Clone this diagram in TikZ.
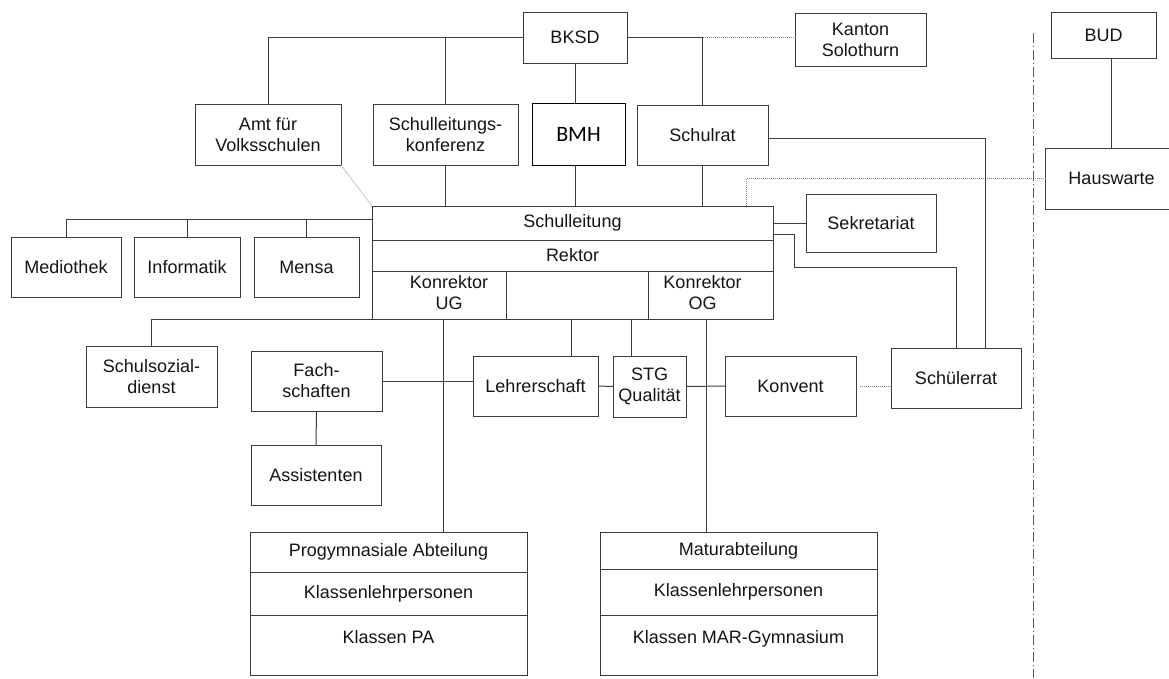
\documentclass[tikz,border=0pt]{standalone}
\usepackage{fontspec}
\setmainfont{Liberation Sans}
\newfontfamily\bmhfont{Carlito}
\usetikzlibrary{positioning}
\definecolor{orgline}{RGB}{60,60,60}
\definecolor{orgtext}{RGB}{20,20,20}
\definecolor{orgdot}{RGB}{130,130,130}
\newcommand{\orgfont}{\fontsize{18}{21}\selectfont}

\begin{document}
\begin{tikzpicture}[
    x=1pt, y=-1pt,
    node distance=0pt,
    box/.style={rectangle,draw=orgline,line width=1pt,outer sep=0pt,inner sep=2pt,
      align=center,font=\orgfont,text=orgtext},
    cellnote/.style={font=\orgfont,text=orgtext,align=center},
    lowrow/.style={text height=13pt,text depth=17pt},
    link/.style={draw=orgline,line width=1pt},
    dotlink/.style={draw=orgdot,line width=0.9pt,dash pattern=on 1pt off 1pt},
    faint/.style={draw=black!28,line width=0.6pt},
    divider/.style={draw=orgline!85,line width=0.9pt,dash pattern=on 10pt off 3pt on 1.2pt off 3pt}
  ]
  \useasboundingbox (0,0) rectangle (1169,678);
  \clip (0,0) rectangle (1169,678);

  \node[box,minimum width=104,minimum height=51] (bksd) at (575,37.5) {BKSD};
  \node[box,minimum width=131,minimum height=53] (kanton) at (860.5,39.5) {Kanton\\Solothurn};
  \node[box,minimum width=105,minimum height=46] (bud) at (1103.5,35) {BUD};
  \node[box,minimum width=146,minimum height=61] (amt) at (268,134.5) {Amt für\\Volksschulen};
  \node[box,minimum width=145,minimum height=61] (slk) at (445.5,134.5) {Schulleitungs-\\konferenz};
  \node[box,draw=black,text=black,font=\bmhfont\fontsize{22}{24}\selectfont,
    minimum width=93,minimum height=62] (bmh) at (578.5,134) {BMH};
  \node[box,minimum width=131,minimum height=60] (schulrat) at (702.5,135) {Schulrat};
  \node[box,minimum width=133,minimum height=61] (hausw) at (1111.5,178.5) {Hauswarte};

  \node[box,minimum width=401,minimum height=34] (sl) at (572.5,223) {Schulleitung};
  \node[box,minimum width=401,minimum height=31,below=of sl] (rektor) {Rektor};
  \node[box,minimum width=134,minimum height=48,below right=0pt and 0pt of rektor.south west,
    label={[cellnote,xshift=10pt,yshift=2pt]center:Konrektor\\UG}] (kug) {};
  \node[box,minimum width=142,minimum height=48,right=of kug] (kmid) {};
  \node[box,minimum width=125,minimum height=48,right=of kmid,
    label={[cellnote,xshift=-8pt,yshift=2pt]center:Konrektor\\OG}] (kog) {};

  \node[box,minimum width=130,minimum height=58] (sekr) at (871,223) {Sekretariat};
  \node[box,minimum width=110,minimum height=60] (med) at (66,267) {Mediothek};
  \node[box,minimum width=106,minimum height=60] (info) at (187,267) {Informatik};
  \node[box,minimum width=105,minimum height=60] (mensa) at (306.5,267) {Mensa};

  \node[box,minimum width=131,minimum height=61] (ssd) at (151.5,376.5) {Schulsozial-\\dienst};
  \node[box,minimum width=131,minimum height=60] (fach) at (316.5,381) {Fach-\\schaften};
  \node[box,minimum width=130,minimum height=60] (assist) at (316,475) {Assistenten};
  \node[box,minimum width=125,minimum height=60] (lehrer) at (535.5,386) {Lehrerschaft};
  \node[box,minimum width=73,minimum height=61] (stg) at (649.5,386.5) {STG\\Qualität};
  \node[box,minimum width=131,minimum height=60] (konvent) at (790.5,386) {Konvent};
  \node[box,minimum width=130,minimum height=60] (schuelerrat) at (956,378) {Schülerrat};

  \node[box,minimum width=277,minimum height=40,anchor=north west] (pa1) at (250,532) {Progymnasiale Abteilung};
  \node[box,minimum width=277,minimum height=43,below=of pa1] (pa2) {Klassenlehrpersonen};
  \node[box,lowrow,minimum width=277,minimum height=60,below=of pa2] (pa3) {Klassen PA};
  \node[box,minimum width=277,minimum height=37,anchor=north west] (ma1) at (600,532) {Maturabteilung};
  \node[box,minimum width=277,minimum height=46,below=of ma1] (ma2) {Klassenlehrpersonen};
  \node[box,lowrow,minimum width=277,minimum height=60,below=of ma2] (ma3) {Klassen MAR-Gymnasium};

  \coordinate (septop) at (1033,33);
  \coordinate (sepbot) at (1033,678);
  \coordinate (hwtap) at (746,206);
  \coordinate (medbus) at ([yshift=4pt]sl.west);
  \coordinate (ugtap) at ([xshift=4pt]kug.south);
  \coordinate (lstap) at ([xshift=-6pt]kmid.south);
  \coordinate (stgtap) at ([xshift=-18.5pt]stg.north);
  \coordinate (ogtap) at ([xshift=-4.5pt]kog.south);

  \draw[link] (bksd.west) -| (amt.north);
  \draw[link] (slk.north) -- (slk.north |- bksd.west);
  \draw[link] (bksd.south) -- (bksd.south |- bmh.north);
  \draw[link] (bksd.east) -| (schulrat.north);
  \draw[dotlink] (schulrat.north |- bksd.east) -- (kanton.west |- bksd.east);
  \draw[faint] (amt.south east) -- (sl.north west);
  \draw[link] (slk.south) -- (slk.south |- sl.north);
  \draw[link] (bksd.south |- bmh.south) -- (bksd.south |- sl.north);
  \draw[link] (schulrat.south) -- (schulrat.south |- sl.north);
  \draw[dotlink] (hwtap) |- (hausw.west);
  \draw[link] ([yshift=-3pt]schulrat.east) -| ([xshift=29pt]schuelerrat.north);
  \draw[link] (sl.east) -- (sekr.west);
  \draw[link] ([yshift=-11pt]sl.east) -- ++(21,0) -- ++(0,33) -| (schuelerrat.north);
  \draw[link] (medbus) -| (med.north);
  \draw[link] (info.north) -- (info.north |- medbus);
  \draw[link] (mensa.north) -- (mensa.north |- medbus);
  \draw[link] (kug.south west) -| (ssd.north);
  \draw[link] (ugtap) -- (ugtap |- pa1.north);
  \draw[link] (lstap) -- (lstap |- lehrer.north);
  \draw[link] (stgtap) -- (stgtap |- kmid.south);
  \draw[link] (ogtap) -- (ogtap |- ma1.north);
  \draw[link] (fach.east) -- (fach.east -| lehrer.west);
  \draw[link] (fach.south) -- (assist.north);
  \draw[link] (lehrer.east) -- (stg.west);
  \draw[link] (stg.east) -- (konvent.west);
  \draw[dotlink] ([xshift=4pt]konvent.east) -- (konvent.east -| schuelerrat.west);
  \draw[link] (hausw.north |- bud.south) -- (hausw.north);
  \draw[divider] (septop) -- (sepbot);
\end{tikzpicture}
\end{document}
